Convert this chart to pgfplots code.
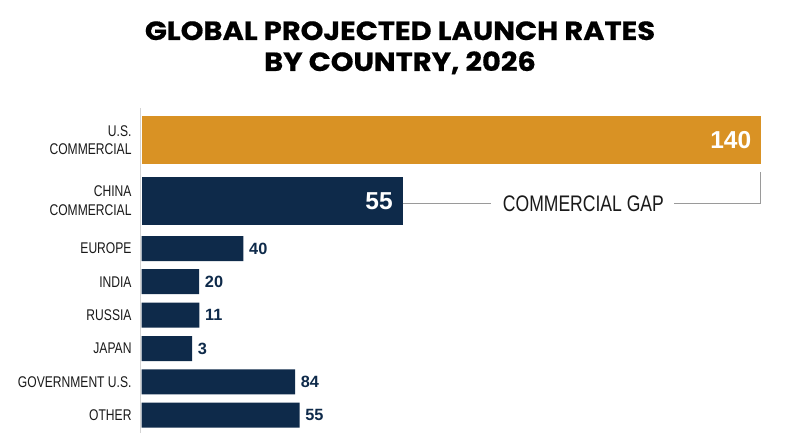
\documentclass[border=0pt]{standalone}
\usepackage{pgfplots}
\usepackage{pgfplotstable}
\pgfplotsset{compat=1.18}
\usepackage{fontspec}
\setmainfont{Liberation Sans}
\newfontfamily\condfont[FakeStretch=0.78]{Liberation Sans}
\newfontfamily\titlefont[FakeStretch=1.1, BoldFeatures={FakeBold=0.6}]{Poppins}
\definecolor{usorange}{HTML}{D99224}
\definecolor{navy}{HTML}{0E2A4A}
\definecolor{labelcol}{HTML}{1A1A1A}
\definecolor{axisgray}{HTML}{D4D4D4}
\definecolor{gapgray}{HTML}{9A9A9A}

% bar length as drawn (US = 140), printed label
\pgfplotstableread{
pos len lab
139.9 140 140
}\usdata
\pgfplotstableread{
pos len lab
200.8 59.0 55
}\chinadata
\pgfplotstableread{
pos len lab
248.5 23.0 40
281.7 13.0 20
315.2 13.05 11
348.5 11.4 3
381.8 34.7 84
415.2 35.7 55
}\smalldata

\begin{document}
\begin{tikzpicture}
\fill[white] (0,0) rectangle (800bp,447bp);
\node[font=\titlefont\bfseries\fontsize{26.3bp}{31bp}\selectfont, anchor=base, inner sep=0pt] at (400bp,407bp) {GLOBAL PROJECTED LAUNCH RATES};
\node[font=\titlefont\bfseries\fontsize{26.3bp}{31bp}\selectfont, anchor=base, inner sep=0pt] at (400bp,376bp) {BY COUNTRY, 2026};
\begin{axis}[
  at={(141.7bp,7bp)}, anchor=south west,
  width=619bp, height=340bp, scale only axis,
  xmin=0, xmax=140, ymin=100, ymax=440, y dir=reverse,
  axis line style={draw=none},
  xtick=\empty,
  ytick={139.9,200.8,248.5,281.7,315.2,348.5,381.8,415.2},
  yticklabels={{U.S.\\COMMERCIAL},{CHINA\\COMMERCIAL},EUROPE,INDIA,RUSSIA,JAPAN,GOVERNMENT U.S.,OTHER},
  major tick length=0pt, tick style={draw=none},
  yticklabel style={font=\condfont\fontsize{15.5bp}{18.3bp}\selectfont, align=right, inner sep=0pt, xshift=-10bp, text=labelcol},
  clip=false,
  point meta=explicit symbolic,
]
\draw[axisgray, line width=1.2bp] ([xshift=-1bp]axis cs:0,108) -- ([xshift=-1bp]axis cs:0,433);
\addplot[xbar, bar shift=0pt, bar width=48.3, fill=usorange, draw=none,
  nodes near coords,
  every node near coord/.append style={anchor=east, inner sep=0pt, xshift=-9.3bp, text=white, font=\bfseries\fontsize{24.5bp}{24.5bp}\selectfont}]
  table[x=len, y=pos, meta=lab] {\usdata};
\addplot[xbar, bar shift=0pt, bar width=48.3, fill=navy, draw=none,
  nodes near coords,
  every node near coord/.append style={anchor=east, inner sep=0pt, xshift=-9.7bp, text=white, font=\bfseries\fontsize{24.5bp}{24.5bp}\selectfont}]
  table[x=len, y=pos, meta=lab] {\chinadata};
\addplot[xbar, bar shift=0pt, bar width=25, fill=navy, draw=none,
  nodes near coords,
  every node near coord/.append style={anchor=west, inner sep=0pt, xshift=5.6bp, text=navy, font=\bfseries\fontsize{16.3bp}{16.3bp}\selectfont}]
  table[x=len, y=pos, meta=lab] {\smalldata};
\draw[gapgray, line width=1bp] (axis cs:59,203.3) -- (axis cs:79.1,203.3);
\draw[gapgray, line width=1bp] (axis cs:120.5,203.3) -- (axis cs:140,203.3) -- (axis cs:140,171.7);
\node[font=\condfont\fontsize{22.5bp}{22.5bp}\selectfont, text=labelcol, inner sep=0pt] at (axis cs:99.9,203.3) {COMMERCIAL GAP};
\end{axis}
\end{tikzpicture}
\end{document}
